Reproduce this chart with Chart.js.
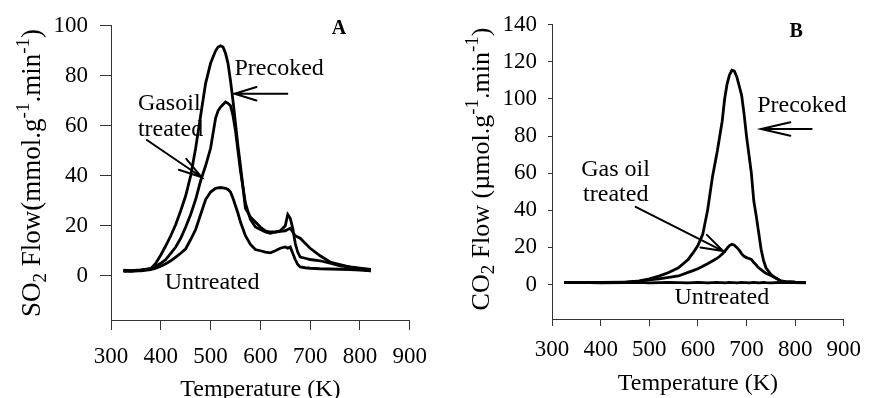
<!DOCTYPE html>
<html>
<head>
<meta charset="utf-8">
<script src="https://cdn.jsdelivr.net/npm/chart.js@4.4.0/dist/chart.umd.min.js"></script>
<style>
  html, body { margin: 0; padding: 0; background: #fff; }
  #wrap { position: relative; width: 871px; height: 398px; }
  canvas { position: absolute; top: 0; }
</style>
</head>
<body>
<div id="wrap">
  <canvas id="chartA" width="440" height="398" style="left:0"></canvas>
  <canvas id="chartB" width="431" height="398" style="left:440px"></canvas>
</div>
<script>
// Data
const tempsA = [325, 340, 360, 380, 390, 400, 410, 420, 430, 440, 450, 460, 470, 480, 490, 500, 510, 515, 520, 525, 530, 535, 540, 545, 550, 555, 560, 570, 580, 590, 600, 610, 620, 630, 640, 650, 655, 660, 665, 670, 675, 680, 690, 700, 720, 740, 760, 780, 800, 822];
const precokedA = [2.0, 1.8, 2.2, 2.8, 5.0, 8.3, 12, 16, 20.5, 26, 32, 40, 51, 64, 77, 85, 90, 91.5, 92, 91.5, 89, 85, 78, 70, 61, 52, 44, 27, 23.5, 21.5, 19.5, 18, 17.5, 17.5, 18, 20, 24.5, 23, 19, 13, 9.5, 7.5, 7, 6.5, 6, 5, 4, 3.5, 3, 2.5];
const gasoilA = [2.2, 2.0, 2.3, 2.8, 3.8, 5, 6.5, 9, 11.5, 15, 19.5, 24.5, 30.5, 38, 44, 51, 63, 66, 67.5, 68.5, 69.5, 69, 68, 64, 58, 50, 42, 29, 22.5, 19.5, 18.5, 17.5, 17, 17.5, 17.8, 18, 18.5, 19, 17.5, 16, 15.5, 15, 13, 11, 8, 5.5, 4.5, 3.5, 2.8, 2.0];
const untreatedA = [1.8, 2.0, 2.0, 2.5, 3, 3.8, 4.8, 6, 7.5, 9, 10.8, 14.5, 18.5, 24.5, 30.5, 33.5, 35, 35.2, 35.3, 35.2, 35, 34.5, 33.5, 31, 28, 25, 21.5, 16, 12.5, 10.5, 10, 9.5, 9.2, 10, 11, 11.5, 11, 11.5, 9, 6.5, 4.5, 3.5, 3.2, 3, 2.8, 2.7, 2.6, 2.5, 2.3, 2.0];

const tempsB = [325, 350, 400, 450, 480, 500, 520, 540, 560, 580, 590, 600, 610, 620, 630, 640, 645, 650, 655, 660, 665, 670, 675, 680, 685, 690, 695, 700, 705, 710, 715, 720, 725, 730, 735, 740, 750, 760, 770, 780, 800, 822];
const precokedB = [1, 1, 1.1, 1.2, 2, 3, 4.5, 6.5, 9, 13.5, 17, 21, 27, 40, 58, 72, 80, 88, 100, 108, 113, 115.5, 115, 112, 107, 102, 92, 80, 70, 60, 45, 37, 28, 19, 13, 9, 5.5, 3.5, 2, 1.5, 1.2, 1];
const gasoilB = [1, 1, 1.1, 1.3, 1.8, 2.5, 3, 3.8, 4.6, 6.5, 7.5, 8.5, 9.8, 11.2, 12.7, 14.2, 15.2, 16.5, 17.8, 19.5, 21, 21.7, 21.2, 20, 18.5, 16.5, 15.2, 14.5, 14, 13.5, 11.8, 10.5, 9, 8, 7, 6, 4.8, 3.5, 2, 1.5, 1.2, 1];
const untreatedB = [1.0, 1.1, 0.9, 1.0, 1.1, 0.9, 1.0, 1.1, 1.0, 0.9, 1.0, 1.1, 1.0, 0.9, 1.0, 1.1, 1.0, 1.0, 0.9, 1.0, 1.1, 1.0, 1.0, 0.9, 1.0, 1.1, 1.0, 1.0, 0.9, 1.0, 1.1, 1.0, 0.9, 1.0, 1.1, 1.0, 0.9, 1.0, 1.1, 1.0, 1.0, 0.9];

const xTicks = [300, 400, 500, 600, 700, 800, 900];
const yTicksA = [0, 20, 40, 60, 80, 100];
const yTicksB = [0, 20, 40, 60, 80, 100, 120, 140];

const SERIF = "'Liberation Serif', 'Times New Roman', serif";
Chart.defaults.font.family = SERIF;
Chart.defaults.font.size = 23;
Chart.defaults.color = "#000";

function toPoints(temps, vals) {
  return temps.map((t, i) => ({ x: t, y: vals[i] }));
}

// text with sub/superscripts, centred on (cx, cy)
function drawRich(ctx, segs, size, cx, cy, rotate) {
  const small = Math.round(size * 0.72);
  const fontOf = s => (s.sub || s.sup ? small : size) + "px " + SERIF;
  let total = 0;
  segs.forEach(s => { ctx.font = fontOf(s); total += ctx.measureText(s.t).width; });
  ctx.save();
  ctx.translate(cx, cy);
  if (rotate) ctx.rotate(-Math.PI / 2);
  ctx.textAlign = "left";
  ctx.textBaseline = "alphabetic";
  let x = -total / 2;
  segs.forEach(s => {
    ctx.font = fontOf(s);
    const dy = s.sub ? size * 0.22 : s.sup ? -size * 0.42 : 0;
    ctx.fillText(s.t, x, size * 0.33 + dy);
    x += ctx.measureText(s.t).width;
  });
  ctx.restore();
}

function drawArrow(ctx, x1, y1, x2, y2, len, ang) {
  const a = Math.atan2(y2 - y1, x2 - x1);
  ctx.beginPath();
  ctx.moveTo(x1, y1);
  ctx.lineTo(x2, y2);
  ctx.moveTo(x2 - len * Math.cos(a - ang), y2 - len * Math.sin(a - ang));
  ctx.lineTo(x2, y2);
  ctx.lineTo(x2 - len * Math.cos(a + ang), y2 - len * Math.sin(a + ang));
  ctx.stroke();
}

const notesPlugin = {
  id: "notes",
  afterDraw(chart, args, opts) {
    const ctx = chart.ctx;
    const xs = chart.scales.x, ys = chart.scales.y;
    const area = chart.chartArea;
    ctx.save();
    ctx.fillStyle = "#000";
    ctx.strokeStyle = "#000";
    ctx.lineWidth = 2;
    ctx.lineCap = "round";
    opts.labels.forEach(l => {
      ctx.font = l.font || "24px " + SERIF;
      ctx.textAlign = l.align || "left";
      ctx.textBaseline = "middle";
      ctx.fillText(l.text, xs.getPixelForValue(l.x), ys.getPixelForValue(l.y));
    });
    opts.arrows.forEach(a => {
      drawArrow(ctx, xs.getPixelForValue(a.from[0]), ys.getPixelForValue(a.from[1]),
        xs.getPixelForValue(a.to[0]), ys.getPixelForValue(a.to[1]), a.len, a.ang * Math.PI / 180);
    });
    drawRich(ctx, opts.yTitle.segs, opts.yTitle.size, opts.yTitle.x, opts.yTitle.y, true);
    drawRich(ctx, [{ t: "Temperature (K)" }], 24, (area.left + area.right) / 2, opts.xTitleY, false);
    ctx.restore();
  }
};

function makeChart(id, temps, series, cfg) {
  return new Chart(document.getElementById(id), {
    type: "line",
    data: {
      datasets: series.map(s => ({
        data: toPoints(temps, s),
        borderColor: "#000",
        borderWidth: 2.8,
        pointRadius: 0,
        tension: 0,
        fill: false
      }))
    },
    options: {
      responsive: false,
      animation: false,
      layout: { padding: cfg.padding },
      plugins: {
        legend: { display: false },
        tooltip: { enabled: false },
        notes: cfg.notes
      },
      scales: {
        x: {
          type: "linear",
          min: 300,
          max: 900,
          afterBuildTicks: sc => { sc.ticks = xTicks.map(v => ({ value: v })); },
          afterFit: sc => { sc.height = cfg.xHeight; },
          ticks: { padding: cfg.xPad, maxRotation: 0 },
          grid: { drawOnChartArea: false, tickLength: cfg.xTick, color: "#333" },
          border: { color: "#333", width: 1 }
        },
        y: {
          min: cfg.yMin,
          max: cfg.yMax,
          afterBuildTicks: sc => { sc.ticks = cfg.yTicks.map(v => ({ value: v })); },
          afterFit: sc => { sc.width = cfg.yWidth; },
          ticks: { padding: cfg.yPad },
          grid: { drawOnChartArea: false, tickLength: cfg.yTick, color: "#333" },
          border: { color: "#333", width: 1 }
        }
      }
    },
    plugins: [notesPlugin]
  });
}

makeChart("chartA", tempsA, [precokedA, gasoilA, untreatedA], {
  padding: { left: 0, right: 30, top: 21, bottom: 0 },
  xHeight: 78, yWidth: 111, xPad: 13, yPad: 12, xTick: 10, yTick: 11,
  yMin: -17.7, yMax: 100, yTicks: yTicksA,
  notes: {
    labels: [
      { text: "A", x: 758, y: 98.8, align: "center", font: "bold 20px " + SERIF },
      { text: "Precoked", x: 548, y: 83 },
      { text: "Gasoil", x: 354, y: 68.9 },
      { text: "treated", x: 354, y: 58.3 },
      { text: "Untreated", x: 408, y: -2.8 }
    ],
    arrows: [
      { from: [654, 72.8], to: [548, 72.8], len: 23, ang: 17 },
      { from: [372, 54.3], to: [482, 39.4], len: 24, ang: 16 }
    ],
    yTitle: {
      x: 31, y: 173, size: 27,
      segs: [{ t: "SO" }, { t: "2", sub: true }, { t: " Flow(mmol.g" }, { t: "-1", sup: true },
             { t: ".min" }, { t: "-1", sup: true }, { t: ")" }]
    },
    xTitleY: 388
  }
});

makeChart("chartB", tempsB, [precokedB, gasoilB, untreatedB], {
  padding: { left: 0, right: 19, top: 20, bottom: 0 },
  xHeight: 79, yWidth: 112, xPad: 10, yPad: 11, xTick: 7, yTick: 4,
  yMin: -18.6, yMax: 140, yTicks: yTicksB,
  notes: {
    labels: [
      { text: "B", x: 802, y: 136.3, align: "center", font: "bold 20px " + SERIF },
      { text: "Precoked", x: 722, y: 96.5 },
      { text: "Gas oil", x: 360, y: 62 },
      { text: "treated", x: 364, y: 48.3 },
      { text: "Untreated", x: 552, y: -6.9 }
    ],
    arrows: [
      { from: [834, 83.8], to: [730, 83.8], len: 30, ang: 13 },
      { from: [472, 41.9], to: [652, 18], len: 23, ang: 18 }
    ],
    yTitle: {
      x: 40, y: 169, size: 26,
      segs: [{ t: "CO" }, { t: "2", sub: true }, { t: " Flow (µmol.g" }, { t: "-1", sup: true },
             { t: ".min" }, { t: "-1", sup: true }, { t: ")" }]
    },
    xTitleY: 382
  }
});
</script>
</body>
</html>
